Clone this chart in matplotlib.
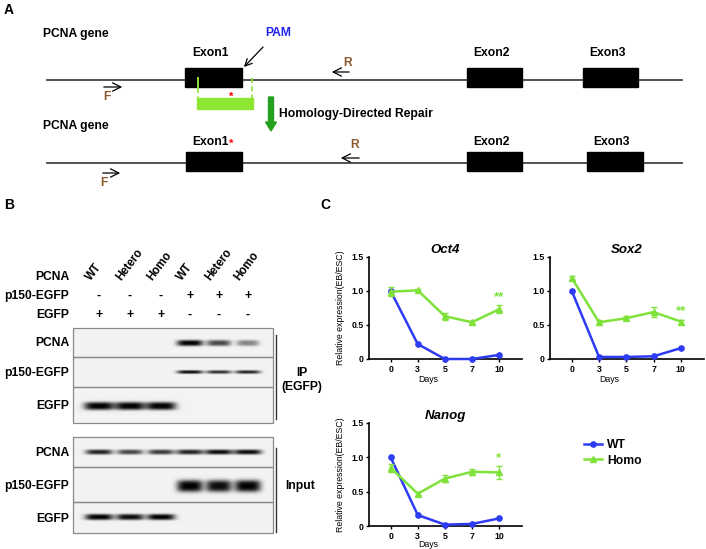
import numpy as np
import matplotlib
matplotlib.use('Agg')
import matplotlib.pyplot as plt
from matplotlib.patches import Rectangle, FancyArrow
from matplotlib.lines import Line2D

plt.rcParams['font.family'] = ['Liberation Sans', 'DejaVu Sans']
plt.rcParams['font.weight'] = 'bold'

# ---- data ----
days = ['0', '3', '5', '7', '10']

oct4_wt = [1.00, 0.22, 0.00, 0.00, 0.06]
oct4_homo = [0.99, 1.01, 0.63, 0.54, 0.73]
oct4_err = [0.07, 0.02, 0.05, 0.02, 0.06]

sox2_wt = [1.00, 0.03, 0.03, 0.04, 0.16]
sox2_homo = [1.19, 0.54, 0.60, 0.69, 0.55]
sox2_err = [0.03, 0.03, 0.03, 0.07, 0.03]

nanog_wt = [1.00, 0.16, 0.02, 0.03, 0.11]
nanog_homo = [0.85, 0.47, 0.69, 0.79, 0.78]
nanog_err = [0.06, 0.02, 0.05, 0.04, 0.09]

lane_names = ['WT', 'Hetero', 'Homo', 'WT', 'Hetero', 'Homo']
p150_row = ['-', '-', '-', '+', '+', '+']
egfp_row = ['+', '+', '+', '-', '-', '-']
blot_rows = ['PCNA', 'p150-EGFP', 'EGFP', 'PCNA', 'p150-EGFP', 'EGFP']
band_levels = [
    [0, 0, 0, 1.00, 0.70, 0.45],   # IP PCNA
    [0, 0, 0, 0.95, 0.80, 0.85],   # IP p150-EGFP
    [1.00, 1.00, 1.00, 0, 0, 0],   # IP EGFP
    [0.85, 0.70, 0.75, 0.85, 0.95, 0.95],  # input PCNA
    [0, 0, 0, 1.00, 0.95, 1.00],   # input p150-EGFP
    [1.00, 0.95, 1.00, 0, 0, 0],   # input EGFP
]

blue = '#2d3cf2'
green = '#7fe23a'
brown = '#8c5a2a'
W, H = 706, 549

fig = plt.figure(figsize=(W / 100, H / 100), dpi=100)
ov = fig.add_axes([0, 0, 1, 1])
ov.set_xlim(0, W)
ov.set_ylim(H, 0)
ov.axis('off')

fs = 8.7

# ---- panel A: gene schematic ----
ov.text(4, 10, 'A', fontsize=10, va='center', ha='left')
for yl in [80, 163]:
    ov.plot([47, 682], [yl, yl], color='#444444', lw=1.3, zorder=1)

exons_top = [(185, 242), (467, 522), (583, 638)]
exons_bot = [(186, 242), (467, 522), (587, 643)]
for (x0, x1) in exons_top:
    ov.add_patch(Rectangle((x0, 68), x1 - x0, 19, color='black', zorder=2))
for (x0, x1) in exons_bot:
    ov.add_patch(Rectangle((x0, 152), x1 - x0, 19, color='black', zorder=2))
for i, (x0, x1) in enumerate(exons_top):
    ov.text((x0 + x1) / 2 - 3, 53, 'Exon%d' % (i + 1), fontsize=fs, ha='center', va='center')
for i, (x0, x1) in enumerate(exons_bot):
    ov.text((exons_top[i][0] + exons_top[i][1]) / 2 - 3 + (4 if i == 2 else 0), 142,
            'Exon%d' % (i + 1), fontsize=fs, ha='center', va='center')

ov.text(43, 34, 'PCNA gene', fontsize=fs, ha='left', va='center')
ov.text(43, 126, 'PCNA gene', fontsize=fs, ha='left', va='center')
ov.text(278, 33, 'PAM', fontsize=fs, ha='center', va='center', color='#2222ee')
ov.annotate('', xy=(242, 69), xytext=(265, 45),
            arrowprops=dict(arrowstyle='->,head_length=0.5,head_width=0.25', lw=0.9, color='black'))

# primers
arrow_kw = dict(arrowstyle='->,head_length=0.6,head_width=0.3', lw=0.9, color='black')
ov.annotate('', xy=(125, 87), xytext=(101, 87), arrowprops=arrow_kw)
ov.text(107, 97, 'F', fontsize=fs, color=brown, ha='center', va='center')
ov.annotate('', xy=(329, 72), xytext=(352, 72), arrowprops=arrow_kw)
ov.text(348, 63, 'R', fontsize=fs, color=brown, ha='center', va='center')
ov.annotate('', xy=(123, 173), xytext=(100, 173), arrowprops=arrow_kw)
ov.text(104, 183, 'F', fontsize=fs, color=brown, ha='center', va='center')
ov.annotate('', xy=(338, 158), xytext=(362, 158), arrowprops=arrow_kw)
ov.text(355, 145, 'R', fontsize=fs, color=brown, ha='center', va='center')

# homology arm
ov.plot([198, 198], [78, 88], color='#90e33a', lw=1.4, zorder=3)
ov.plot([198, 198], [88, 99], color='#90e33a', lw=1.2, ls=(0, (3, 2)), zorder=3)
ov.plot([252, 252], [78, 99], color='#90e33a', lw=1.2, ls=(0, (3, 2)), zorder=3)
ov.add_patch(Rectangle((197, 98), 56, 11, color='#8ee632', zorder=3))
ov.text(231, 97, '*', fontsize=8, color='red', ha='center', va='center')
ov.text(231, 144, '*', fontsize=8, color='red', ha='center', va='center')
ov.add_patch(FancyArrow(271, 97, 0, 34, width=5, head_width=11, head_length=9,
                        length_includes_head=True, color='#26a020', zorder=3))
ov.text(279, 114, 'Homology-Directed Repair', fontsize=fs, ha='left', va='center')

# ---- panel B: western blot ----
ov.text(4, 205, 'B', fontsize=10, va='center', ha='left')
ov.text(320, 205, 'C', fontsize=10, va='center', ha='left')

lane_x = [99, 130, 161, 190, 219, 248]
for x, name in zip(lane_x, lane_names):
    ov.text(x - 6, 283, name, fontsize=8.3, rotation=53, rotation_mode='anchor',
            ha='left', va='bottom')
ov.text(69, 277, 'PCNA', fontsize=fs, ha='right', va='center')
ov.text(69, 296, 'p150-EGFP', fontsize=fs, ha='right', va='center')
ov.text(69, 315, 'EGFP', fontsize=fs, ha='right', va='center')
for x, a, b in zip(lane_x, p150_row, egfp_row):
    ov.text(x, 296, a, fontsize=fs, ha='center', va='center')
    ov.text(x, 315, b, fontsize=fs, ha='center', va='center')

box_x0, box_x1 = 73, 273
box_edges = [(328, 357), (357, 387), (387, 423), (437, 467), (467, 502), (502, 533)]
band_y = [343, 372, 406, 452, 486, 517]
band_h = [6, 3.5, 8, 5, 12, 6]
band_w = [26, 26, 30, 28, 26, 28]

xs = np.linspace(box_x0, box_x1, 400)
for r, ((y0, y1), levels) in enumerate(zip(box_edges, band_levels)):
    ys = np.linspace(y0, y1, 120)
    X, Y = np.meshgrid(xs, ys)
    dens = np.zeros_like(X)
    yprof = np.exp(-np.abs((Y - band_y[r]) / (band_h[r] / 2)) ** 3)
    for x, lev in zip(lane_x, levels):
        w = band_w[r] * (0.75 + 0.25 * lev)
        dens += lev * np.exp(-np.abs((X - x) / (w / 2)) ** 4) * yprof
    img = np.clip(0.95 - 0.95 * dens, 0, 1)
    ov.imshow(img, extent=(box_x0, box_x1, y1, y0), cmap='gray', vmin=0, vmax=1,
              aspect='auto', interpolation='bilinear', zorder=2)
    ov.add_patch(Rectangle((box_x0, y0), box_x1 - box_x0, y1 - y0, fill=False,
                           edgecolor='#8a8a8a', lw=0.9, zorder=3))
    ov.text(69, (y0 + y1) / 2 + 1, blot_rows[r], fontsize=fs, ha='right', va='center')

ov.plot([276, 276], [335, 419], color='#333333', lw=1.0)
ov.plot([276, 276], [448, 532], color='#333333', lw=1.0)
ov.text(302, 380, 'IP\n(EGFP)', fontsize=fs, ha='center', va='center', linespacing=1.2)
ov.text(300, 486, 'Input', fontsize=fs, ha='center', va='center')
ov.set_xlim(0, W)
ov.set_ylim(H, 0)


# ---- panel C: expression curves ----
def px_axes(left, top, right, bottom):
    return fig.add_axes([left / W, 1 - bottom / H, (right - left) / W, (bottom - top) / H])


def plot_expr(ax, wt, homo, err, title, stars, ylabel, days_y):
    x = np.arange(len(days))
    ax.plot(x, wt, color=blue, lw=1.8, marker='o', ms=3.8, clip_on=False, zorder=3)
    ax.errorbar(x, homo, yerr=err, color=green, lw=1.8, marker='^', ms=4.2,
                capsize=2.5, elinewidth=1.0, capthick=1.0, clip_on=False, zorder=4)
    ax.text(x[-1], homo[-1] + err[-1] + 0.12, stars, color=green, fontsize=9.5,
            ha='center', va='center')
    ax.set_xlim(-0.8, 4.85)
    ax.set_ylim(0, 1.5)
    ax.set_xticks(x)
    ax.set_xticklabels(days)
    ax.set_yticks([0, 0.5, 1.0, 1.5])
    ax.set_yticklabels(['0', '0.5', '1.0', '1.5'])
    ax.tick_params(labelsize=6.3, length=2.5, width=1.0, pad=1.5)
    for s in ['top', 'right']:
        ax.spines[s].set_visible(False)
    for s in ['left', 'bottom']:
        ax.spines[s].set_linewidth(1.2)
    ax.patch.set_alpha(0)
    ax.set_title(title, fontsize=9.5, style='italic', weight='bold', pad=3)
    ax.set_xlabel('Days', fontsize=6.3)
    ax.xaxis.set_label_coords(0.385, days_y)
    if ylabel:
        ax.set_ylabel('Relative expression(EB/ESC)', fontsize=6.3)
        ax.yaxis.set_label_coords(-0.155, 0.5)


ax1 = px_axes(369, 257, 522, 359)
plot_expr(ax1, oct4_wt, oct4_homo, oct4_err, 'Oct4', '**', True, -0.155)
ax2 = px_axes(550, 257, 704, 359)
plot_expr(ax2, sox2_wt, sox2_homo, sox2_err, 'Sox2', '**', False, -0.155)
ax3 = px_axes(369, 423, 522, 526)
plot_expr(ax3, nanog_wt, nanog_homo, nanog_err, 'Nanog', '*', True, -0.14)

handles = [Line2D([], [], color=blue, lw=1.8, marker='o', ms=3.8),
           Line2D([], [], color=green, lw=1.8, marker='^', ms=4.2)]
fig.legend(handles, ['WT', 'Homo'], loc='upper left', bbox_to_anchor=(578 / W, 1 - 433 / H),
           frameon=False, prop={'weight': 'bold', 'size': 8.7}, handlelength=1.5,
           handletextpad=0.4, labelspacing=0.3, borderpad=0)

fig.savefig('out.png', dpi=100)
